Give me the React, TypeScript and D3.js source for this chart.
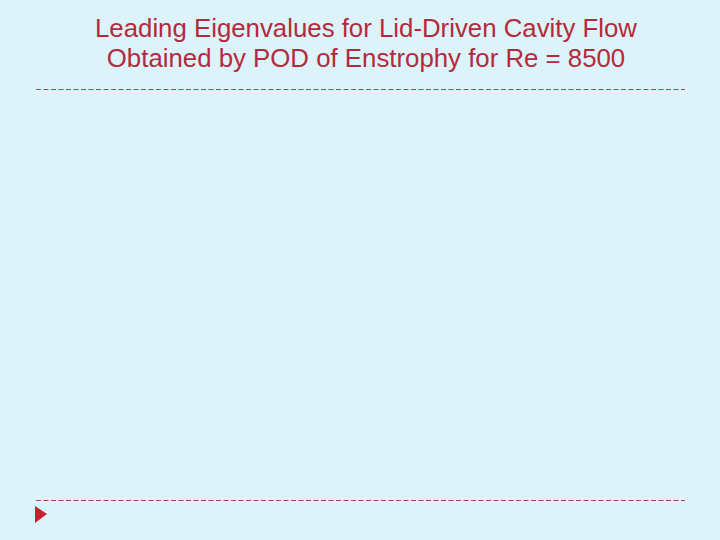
import React from "react";
import * as d3 from "d3";

// slide title lines (the chart area itself is empty in the reference)
const titleLines = [
  "Leading Eigenvalues for Lid-Driven Cavity Flow",
  "Obtained by POD of Enstrophy for Re = 8500",
];

const W = 720;
const H = 540;

export default function App() {
  const x = d3.scaleLinear().domain([0, 1]).range([36, 685]);
  const ruleY = [89, 500];
  return (
    <div style={{ position: "absolute", left: 0, top: 0 }}>
      <svg width={W} height={H} style={{ display: "block" }}>
        <rect width={W} height={H} fill="#dcf4f9" />
        {titleLines.map((t, i) => (
          <text
            key={i}
            x={366}
            y={37 + i * 30}
            textAnchor="middle"
            fontFamily="Liberation Sans, Arial, sans-serif"
            fontSize={25.8}
            fill="#b42a3c"
          >
            {t}
          </text>
        ))}
        {ruleY.map((y, i) => (
          <line
            key={i}
            x1={x(0)}
            x2={x(1)}
            y1={y + 0.5}
            y2={y + 0.5}
            stroke="#a8445c"
            strokeWidth={1}
            strokeDasharray="5 2.5"
          />
        ))}
        <path d="M35,506 L47,514 L35,523 Z" fill="#c8202c" />
      </svg>
    </div>
  );
}
